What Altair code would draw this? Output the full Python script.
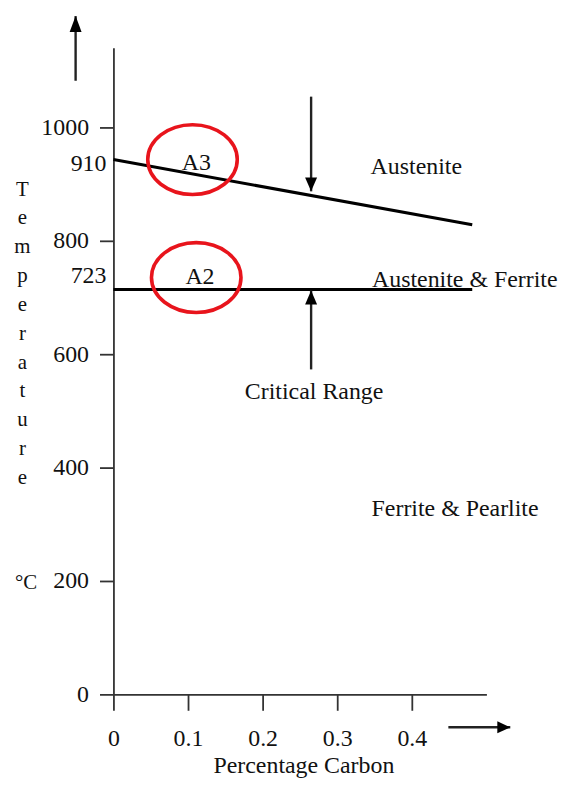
import altair as alt
import pandas as pd

# ---- data ----
x_ticks = [0, 0.1, 0.2, 0.3, 0.4]
y_ticks = [0, 200, 400, 600, 800, 1000]

a3_carbon = [0.0, 0.481]
a3_temp = [943, 828]
a2_carbon = [0.0, 0.481]
a2_temp = [714, 714]

crit_labels = ["910", "723"]
crit_temp = [936, 737]

phase_labels = ["A3", "A2"]
phase_carbon = [0.111, 0.116]
phase_temp = [937, 736]

ring_carbon = [0.106, 0.111]
ring_temp = [943, 735]

region_labels = ["Austenite", "Austenite & Ferrite", "Critical Range", "Ferrite & Pearlite"]
region_carbon = [0.406, 0.471, 0.269, 0.458]
region_temp = [917, 719, 521, 314]

arrow_dir = ["down", "up", "up2", "right"]
arrow_c_from = [0.265, 0.265, -0.0507, 0.449]
arrow_c_to = [0.265, 0.265, -0.0507, 0.532]
arrow_t_from = [1054, 573, 1082, -58]
arrow_t_to = [887, 712, 1196, -58]

unit_label = ["°C"]
unit_carbon = [-0.117]
unit_temp = [186]

y_title = ["T", "e", "m", "p", "e", "r", "a", "t", "u", "r", "e"]
x_title = "Percentage Carbon"

FONT = "Liberation Serif"
INK = "#111111"

# ---- tables ----
lines_df = pd.DataFrame({
    "c": a3_carbon + a2_carbon,
    "t": a3_temp + a2_temp,
    "s": ["A3"] * len(a3_carbon) + ["A2"] * len(a2_carbon),
})
crit_df = pd.DataFrame({"c": [0.0] * len(crit_labels), "t": crit_temp, "lab": crit_labels})
phase_df = pd.DataFrame({"c": phase_carbon, "t": phase_temp, "lab": phase_labels})
ring_df = pd.DataFrame({"c": ring_carbon, "t": ring_temp})
region_df = pd.DataFrame({"c": region_carbon, "t": region_temp, "lab": region_labels})
arrow_df = pd.DataFrame({
    "dir": arrow_dir, "c": arrow_c_from, "c2": arrow_c_to,
    "t": arrow_t_from, "t2": arrow_t_to,
})
unit_df = pd.DataFrame({"c": unit_carbon, "t": unit_temp, "lab": unit_label})

xscale = alt.Scale(domain=[0, 0.5], nice=False, zero=False)
yscale = alt.Scale(domain=[0, 1140], nice=False, zero=False)

xaxis = alt.Axis(
    values=x_ticks, format=".1~f", grid=False,
    domainColor="#333333", domainWidth=1.8,
    tickColor="#333333", tickWidth=1.8, tickSize=16,
    labelFont=FONT, labelFontSize=24, labelColor=INK,
    labelBaseline="alphabetic", labelPadding=35, labelFlush=False,
    title=x_title, titleFont=FONT, titleFontSize=24, titleFontWeight="normal",
    titleColor=INK, titleX=191, titleY=79, titleAlign="center",
    titleBaseline="alphabetic",
)
yaxis = alt.Axis(
    values=y_ticks, format="d", grid=False,
    domainColor="#333333", domainWidth=1.8,
    tickColor="#333333", tickWidth=1.8, tickSize=14,
    labelFont=FONT, labelFontSize=24, labelColor=INK,
    labelAlign="right", labelBaseline="middle", labelPadding=11, labelFlush=False,
    title=y_title, titleFont=FONT, titleFontSize=21, titleFontWeight="normal",
    titleColor=INK, titleAngle=0, titleX=-92, titleY=148, titleAlign="center",
    titleBaseline="alphabetic", titleLineHeight=29,
)


def X(field="c"):
    return alt.X(f"{field}:Q", scale=xscale, axis=xaxis)


def Y(field="t"):
    return alt.Y(f"{field}:Q", scale=yscale, axis=yaxis)


lines = alt.Chart(lines_df).mark_line(color="#000000", strokeWidth=3).encode(
    x=X(), y=Y(), detail="s:N"
)

shafts = alt.Chart(arrow_df).mark_rule(color="#222222", strokeWidth=2.4).encode(
    x=X(), x2="c2:Q", y=Y(), y2="t2:Q"
)

head_paths = [
    "M-0.86,-2L0.86,-2L0,0Z",      # down
    "M-0.86,2L0.86,2L0,0Z",        # up
    "M-0.86,2.3L0.86,2.3L0,0Z",    # up (axis arrow)
    "M-1.86,-0.86L0,0L-1.86,0.86Z" # right
]
heads = alt.Chart(arrow_df).mark_point(
    filled=True, color="#000000", opacity=1, size=196, strokeWidth=0
).encode(
    x=X("c2"), y=Y("t2"),
    shape=alt.Shape("dir:N", scale=alt.Scale(domain=arrow_dir, range=head_paths), legend=None),
)

rings = alt.Chart(ring_df).mark_point(
    shape="M-1,0A1,0.78,0,1,0,1,0A1,0.78,0,1,0,-1,0Z",
    filled=False, color="#e8141c", opacity=1, size=8100, strokeWidth=3.6,
).encode(x=X(), y=Y())

crit_text = alt.Chart(crit_df).mark_text(
    font=FONT, fontSize=24, color=INK, align="right", baseline="middle", dx=-7
).encode(x=X(), y=Y(), text="lab:N")

phase_text = alt.Chart(phase_df).mark_text(
    font=FONT, fontSize=24, color=INK, align="center", baseline="middle"
).encode(x=X(), y=Y(), text="lab:N")

region_text = alt.Chart(region_df).mark_text(
    font=FONT, fontSize=24, color=INK, align="center", baseline="alphabetic"
).encode(x=X(), y=Y(), text="lab:N")

unit_text = alt.Chart(unit_df).mark_text(
    font=FONT, fontSize=21, color=INK, align="center", baseline="alphabetic"
).encode(x=X(), y=Y(), text="lab:N")

chart = alt.layer(
    lines, shafts, heads, rings, crit_text, phase_text, region_text, unit_text
).properties(
    width=375, height=650,
    padding={"left": 106, "top": 38, "right": 76, "bottom": 82},
    autosize=alt.AutoSizeParams(type="none"),
    background="white",
).configure_view(stroke=None)

chart.save("out.html", embed_options={"renderer": "svg", "actions": False})
